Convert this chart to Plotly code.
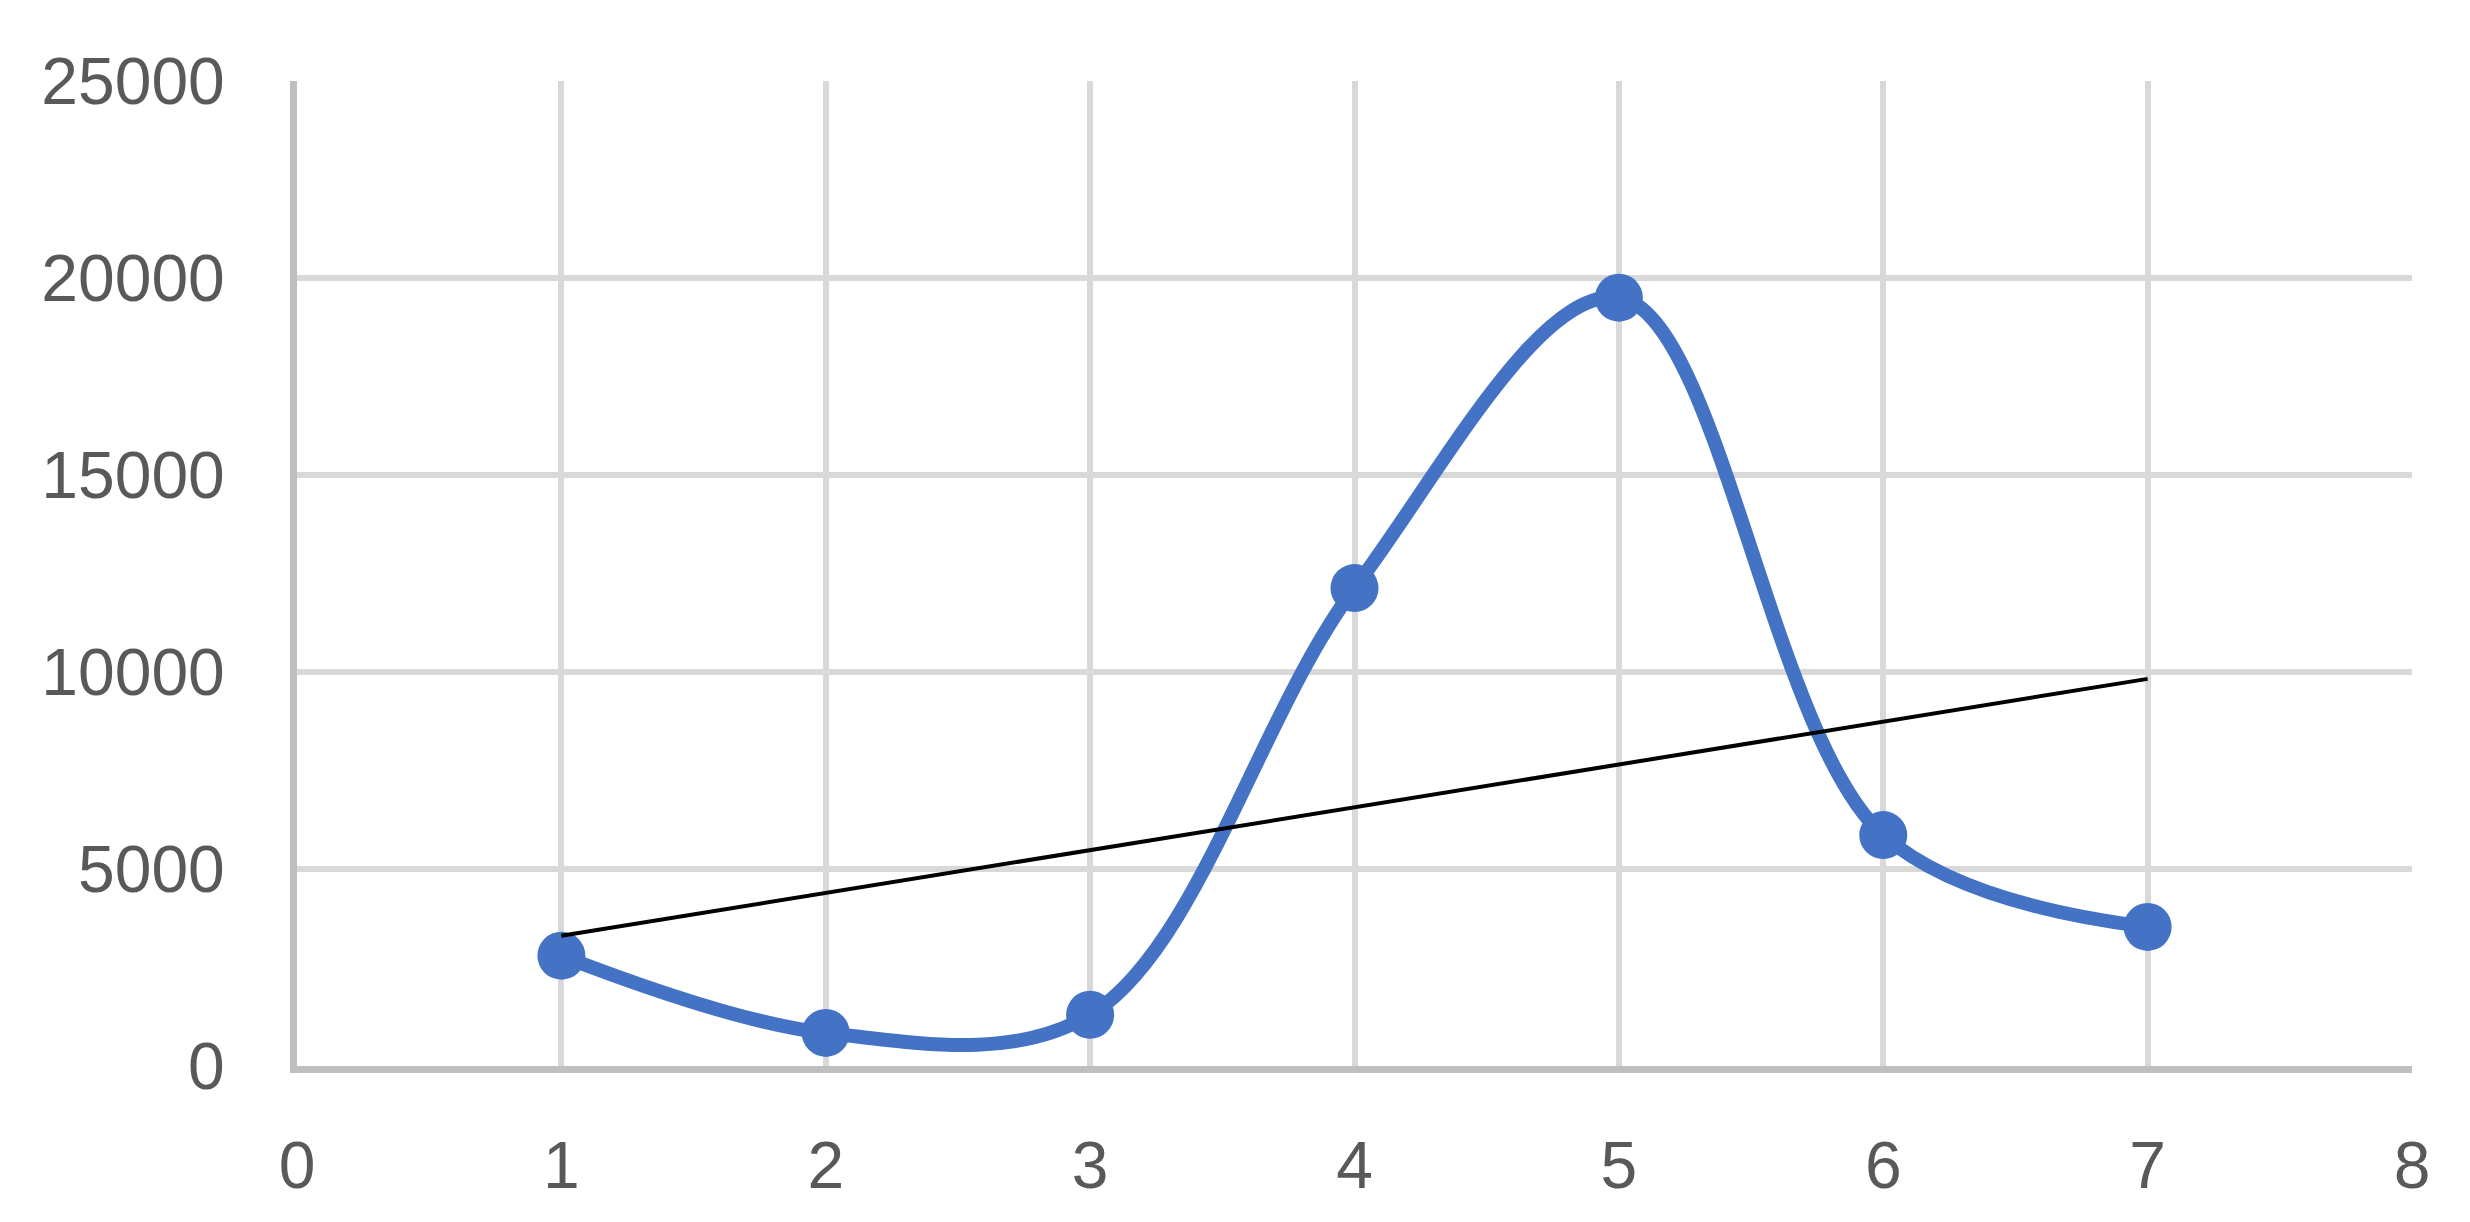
import numpy as np
import plotly.graph_objects as go

# values
x_vals = [1, 2, 3, 4, 5, 6, 7]
y_vals = [2800, 840, 1300, 12130, 19500, 5860, 3530]

x_ticks = [0, 1, 2, 3, 4, 5, 6, 7, 8]
y_ticks = [0, 5000, 10000, 15000, 20000, 25000]

# linear trendline (least squares fit, like Excel's)
slope, intercept = np.polyfit(x_vals, y_vals, 1)
trend_x = [x_vals[0], x_vals[-1]]
trend_y = [slope * x + intercept for x in trend_x]

fig = go.Figure()

fig.add_trace(go.Scatter(
    x=x_vals,
    y=y_vals,
    mode="lines+markers",
    line=dict(color="#4472C4", width=14, shape="spline", smoothing=1),
    marker=dict(color="#4472C4", size=48),
    showlegend=False,
))

fig.add_trace(go.Scatter(
    x=trend_x,
    y=trend_y,
    mode="lines",
    line=dict(color="#000000", width=4),
    showlegend=False,
))

tick_font = dict(family="Liberation Sans", size=66, color="#595959")

fig.update_xaxes(
    range=[0, 8],
    tickvals=x_ticks,
    ticktext=[str(t) for t in x_ticks],
    showgrid=True,
    gridcolor="#d9d9d9",
    gridwidth=6,
    showline=True,
    linecolor="#bfbfbf",
    linewidth=7,
    zeroline=False,
    tickfont=tick_font,
    ticklabelstandoff=36,
    automargin=False,
)
fig.update_yaxes(
    range=[0, 25000],
    tickvals=y_ticks,
    ticktext=[str(t) for t in y_ticks],
    showgrid=True,
    gridcolor="#d9d9d9",
    gridwidth=6,
    showline=True,
    linecolor="#bfbfbf",
    linewidth=7,
    zeroline=False,
    tickfont=tick_font,
    ticklabelstandoff=52,
    automargin=False,
)

fig.update_layout(
    width=2470,
    height=1222,
    paper_bgcolor="white",
    plot_bgcolor="white",
    margin=dict(l=297, r=58, t=81, b=156),
)

# drop the browser's default body margin so the figure sits at the page corner
fig.write_html(
    "out.html",
    config={"displayModeBar": False},
    post_script="document.body.style.margin = '0';",
)
